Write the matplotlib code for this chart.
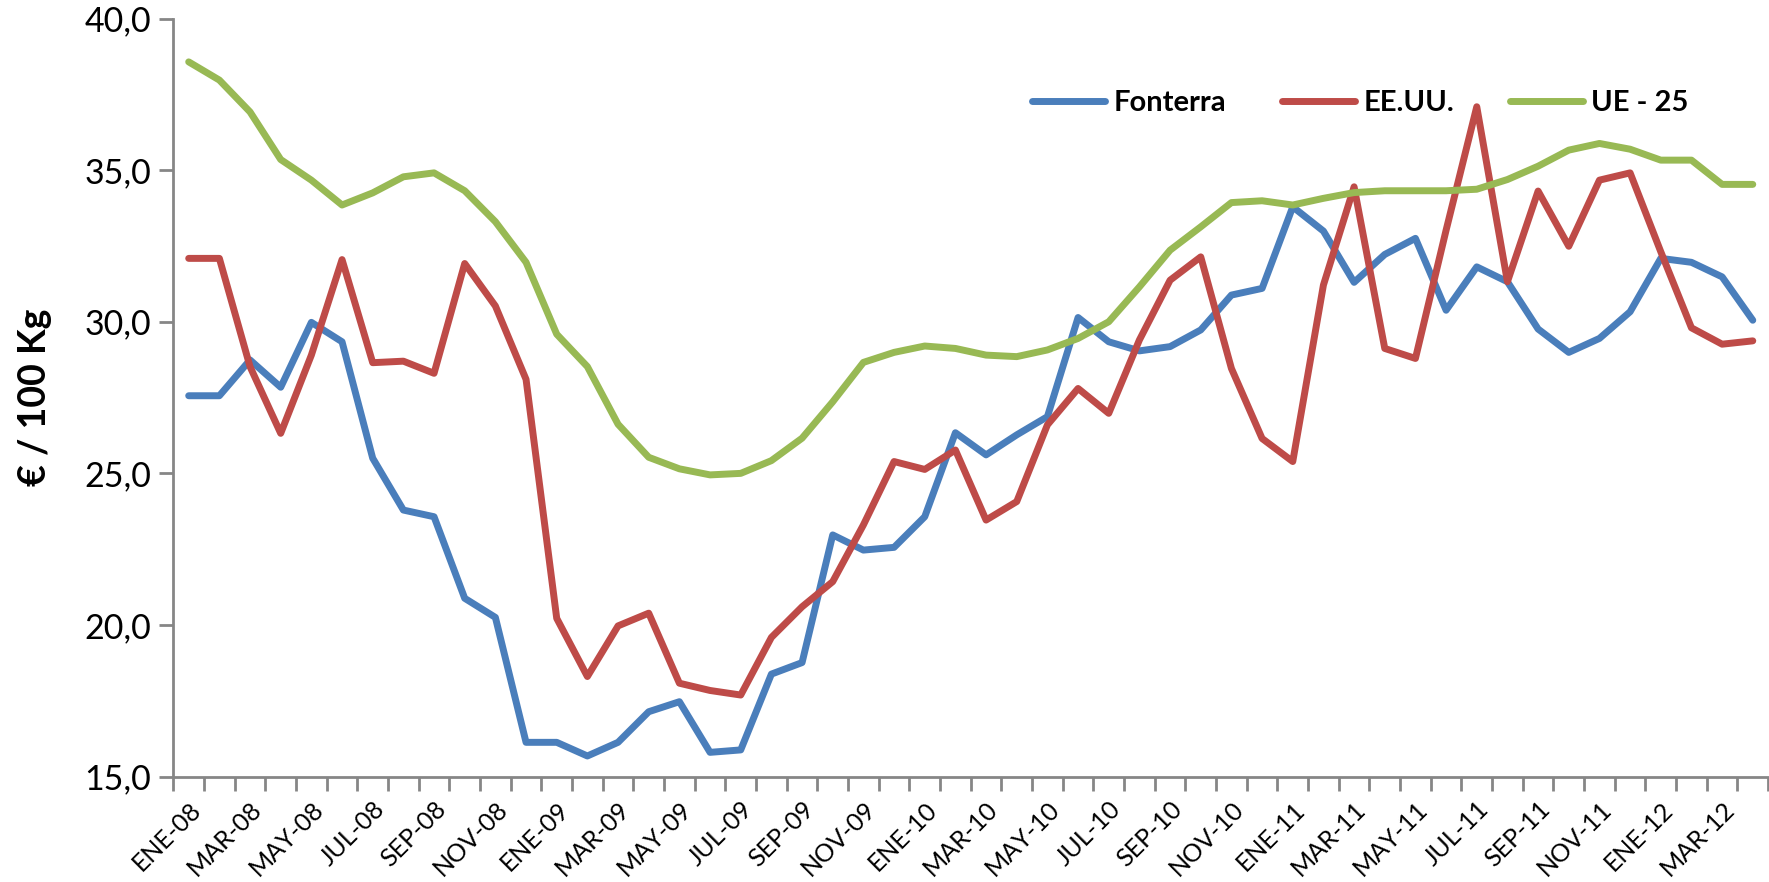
import numpy as np
import matplotlib
matplotlib.use("Agg")
import matplotlib.pyplot as plt

plt.rcParams['font.family'] = ['Lato', 'DejaVu Sans']

# meses ENE-08 .. ABR-12
meses = ['ENE', 'FEB', 'MAR', 'ABR', 'MAY', 'JUN', 'JUL', 'AGO', 'SEP', 'OCT', 'NOV', 'DIC']
etiquetas = [m + '-' + a for a in ['08', '09', '10', '11', '12'] for m in meses][:52]

fonterra = [27.56, 27.56, 28.74, 27.84, 29.98, 29.34, 25.50, 23.79, 23.57, 20.88,
            20.25, 16.13, 16.13, 15.68, 16.13, 17.14, 17.47, 15.80, 15.88, 18.38,
            18.76, 22.97, 22.47, 22.56, 23.57, 26.34, 25.61, 26.27, 26.87, 30.14,
            29.34, 29.04, 29.18, 29.73, 30.88, 31.10, 33.79, 32.99, 31.30, 32.22,
            32.75, 30.38, 31.81, 31.32, 29.76, 28.99, 29.45, 30.33, 32.09, 31.96,
            31.48, 30.05]
eeuu = [32.09, 32.09, 28.52, 26.32, 28.90, 32.05, 28.65, 28.70, 28.30, 31.92,
        30.52, 28.10, 20.22, 18.30, 19.97, 20.39, 18.08, 17.84, 17.69, 19.59,
        20.60, 21.43, 23.30, 25.39, 25.13, 25.77, 23.46, 24.07, 26.60, 27.80,
        26.98, 29.40, 31.37, 32.14, 28.46, 26.15, 25.39, 31.21, 34.45, 29.12,
        28.79, 33.02, 37.09, 31.32, 34.31, 32.49, 34.67, 34.91, 32.31, 29.80,
        29.26, 29.37]
ue25 = [38.57, 37.97, 36.92, 35.35, 34.67, 33.85, 34.25, 34.78, 34.91, 34.32,
        33.30, 31.96, 29.59, 28.52, 26.62, 25.53, 25.15, 24.95, 25.00, 25.42,
        26.16, 27.36, 28.66, 28.99, 29.20, 29.12, 28.90, 28.85, 29.07, 29.45,
        30.00, 31.15, 32.36, 33.13, 33.93, 33.99, 33.85, 34.07, 34.26, 34.32,
        34.32, 34.32, 34.37, 34.69, 35.13, 35.66, 35.88, 35.69, 35.33, 35.33,
        34.53, 34.53]

series = [('Fonterra', fonterra, '#4A7EBB'),
          ('EE.UU.', eeuu, '#BE4B48'),
          ('UE - 25', ue25, '#98B954')]

fig = plt.figure(figsize=(17.69, 8.82), dpi=100)
ax = fig.add_axes([0.098, 0.1195, 0.9015, 0.8595])

x = np.arange(len(etiquetas))
for nombre, valores, color in series:
    ax.plot(x, valores, color=color, lw=5, label=nombre,
            solid_joinstyle='round', solid_capstyle='round')

ax.set_xlim(-0.5, len(etiquetas) - 0.5)
ax.set_ylim(15, 40)
yt = [15, 20, 25, 30, 35, 40]
ax.set_yticks(yt)
ax.set_yticklabels([('%.1f' % v).replace('.', ',') for v in yt])

# marcas entre categorias, etiquetas cada dos meses
ax.set_xticks(np.arange(-0.5, len(etiquetas), 1))
ax.set_xticklabels([])
ax.set_xticks(x[::2], minor=True)
ax.set_xticklabels(etiquetas[::2], minor=True, rotation=45, ha='right',
                   va='top', rotation_mode='anchor', fontsize=18)
ax.tick_params(axis='x', which='major', length=10, width=2, color='#868686')
ax.tick_params(axis='x', which='minor', length=0, pad=15)
ax.tick_params(axis='y', length=10, width=2, color='#868686', labelsize=24.5, pad=6)

for s in ['top', 'right']:
    ax.spines[s].set_visible(False)
for s in ['left', 'bottom']:
    ax.spines[s].set_color('#868686')
    ax.spines[s].set_linewidth(2)

ax.set_ylabel('€ / 100 Kg', fontsize=27, fontweight='bold')
ax.yaxis.set_label_coords(-0.076, 0.5)

fig.legend(loc='center', bbox_to_anchor=(0.769, 0.883), ncol=3, frameon=False,
           prop={'size': 21, 'weight': 'bold'}, handlelength=2.5,
           handletextpad=0.3, columnspacing=1.9)

fig.savefig('out.png', dpi=100)
